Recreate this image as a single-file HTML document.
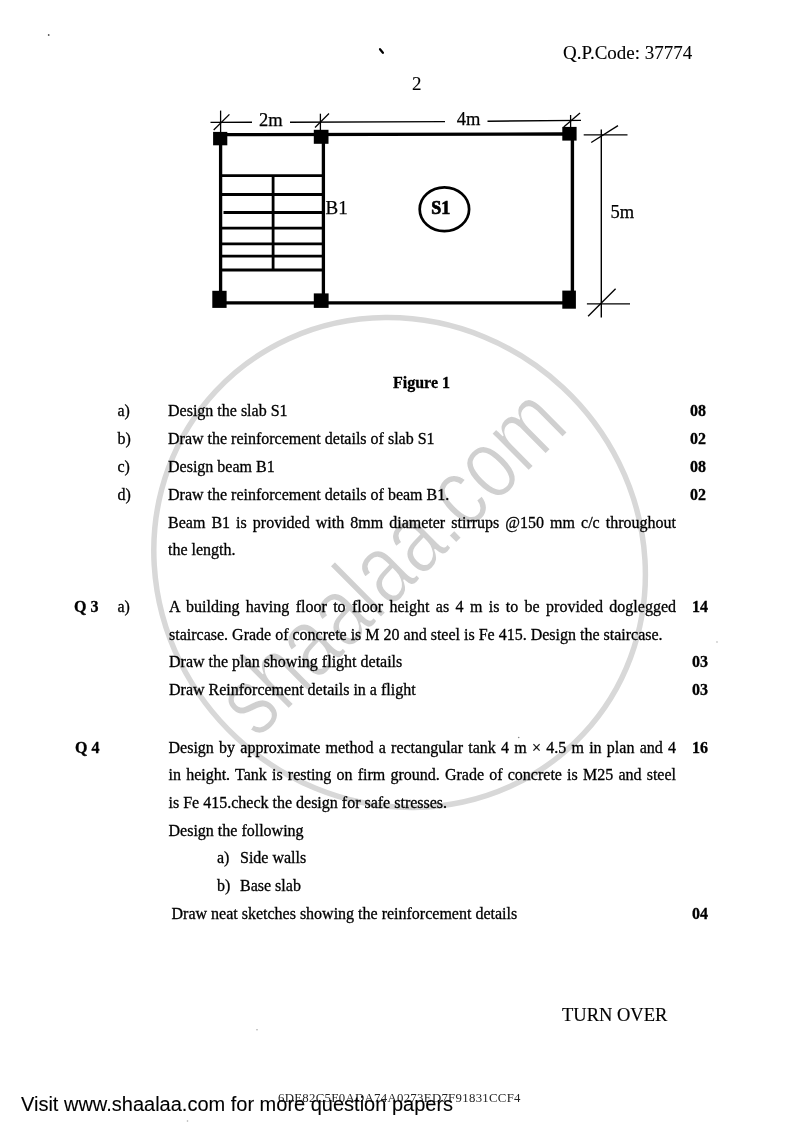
<!DOCTYPE html>
<html><head><meta charset="utf-8">
<style>
html,body{margin:0;padding:0;background:#fff;}
body{width:800px;height:1131px;position:relative;overflow:hidden;filter:grayscale(1) blur(0.3px);font-family:"Liberation Serif",serif;color:#000;}
.l{position:absolute;font-size:16px;line-height:16px;white-space:pre;-webkit-text-stroke:0.3px #000;}
.b{font-weight:bold;}
.j{text-align:justify;text-align-last:justify;white-space:normal;}
svg{position:absolute;left:0;top:0;}
</style></head><body>
<svg width="800" height="1131" viewBox="0 0 800 1131">
<!-- watermark circle -->
<ellipse cx="399.6" cy="562.5" rx="251.3" ry="239.3" transform="rotate(43 399.6 562.5)" fill="none" stroke="#d8d8d8" stroke-width="5.5"/>
<text x="0" y="0" font-family="Liberation Sans" font-size="100" fill="#d0d0d0" stroke="#fff" stroke-width="1.6" transform="translate(257.2,740.3) rotate(-44.75) scale(0.78,1)">shaalaa.com</text>
</svg>

<svg width="800" height="1131" viewBox="0 0 800 1131" id="fig">
<line x1="380" y1="49.2" x2="382.9" y2="52.8" stroke="#000" stroke-width="2.2" stroke-linecap="round"/>
<circle cx="48.7" cy="35" r="0.9" fill="#555"/>
<circle cx="257" cy="1029.8" r="0.8" fill="#aaa"/>
<circle cx="187.5" cy="1121" r="0.8" fill="#aaa"/>
<circle cx="518.7" cy="737.5" r="0.8" fill="#888"/>
<circle cx="717" cy="642" r="0.9" fill="#ccc"/>
<g stroke="#000" fill="none" stroke-linecap="butt">
<!-- dimension line top -->
<line x1="210.5" y1="122.4" x2="252" y2="122.2" stroke-width="1.4"/>
<line x1="290" y1="122.2" x2="445" y2="121.6" stroke-width="1.4"/>
<line x1="487.5" y1="121.2" x2="581" y2="120.4" stroke-width="1.4"/>
<!-- ticks -->
<line x1="220.6" y1="110.6" x2="220.6" y2="132" stroke-width="1.3"/>
<line x1="213.7" y1="130" x2="229.4" y2="114.4" stroke-width="1.3"/>
<line x1="320.4" y1="113.7" x2="320.4" y2="130" stroke-width="1.3"/>
<line x1="315" y1="127.5" x2="329" y2="113.5" stroke-width="1.3"/>
<line x1="570.6" y1="115" x2="570.6" y2="127" stroke-width="1.3"/>
<line x1="563.7" y1="126.9" x2="580" y2="113" stroke-width="1.3"/>
<!-- beams -->
<line x1="226" y1="134.6" x2="563" y2="134" stroke-width="3.3"/>
<line x1="225" y1="302.9" x2="563" y2="302.9" stroke-width="3.3"/>
<line x1="220.6" y1="144" x2="220.6" y2="292" stroke-width="3.3"/>
<line x1="323.4" y1="142" x2="323.4" y2="294" stroke-width="3.3"/>
<line x1="572.4" y1="140" x2="572.4" y2="291" stroke-width="3.4"/>
<!-- stairs -->
<line x1="220.6" y1="175.6" x2="325" y2="175.6" stroke-width="2.8"/>
<line x1="220.6" y1="194.5" x2="325" y2="194.5" stroke-width="2.8"/>
<line x1="223.5" y1="212.5" x2="325" y2="212.5" stroke-width="2.8"/>
<line x1="220.6" y1="228.2" x2="325" y2="228.2" stroke-width="2.8"/>
<line x1="220.6" y1="243.8" x2="325" y2="243.8" stroke-width="2.8"/>
<line x1="220.6" y1="256.2" x2="325" y2="256.2" stroke-width="2.8"/>
<line x1="220.6" y1="270" x2="325" y2="270" stroke-width="2.8"/>
<line x1="273.1" y1="175" x2="273.1" y2="271" stroke-width="2.8"/>
<!-- right dim -->
<line x1="601.3" y1="129.4" x2="601.3" y2="317.5" stroke-width="1.4"/>
<line x1="583.7" y1="134.8" x2="627.5" y2="134.8" stroke-width="1.3"/>
<line x1="591.2" y1="142.5" x2="618" y2="125.6" stroke-width="1.3"/>
<line x1="586.9" y1="303.8" x2="630" y2="303.8" stroke-width="1.3"/>
<line x1="588.1" y1="316.2" x2="615.6" y2="288.8" stroke-width="1.3"/>
<!-- S1 ellipse -->
<ellipse cx="444.4" cy="209.3" rx="24.7" ry="21.9" stroke-width="2.7"/>
</g>
<g fill="#000">
<rect x="213.1" y="131.9" width="14.2" height="13.4"/>
<rect x="313.8" y="129.8" width="14.7" height="14"/>
<rect x="562.3" y="126.9" width="14.3" height="13.7"/>
<rect x="212.3" y="290.8" width="14.3" height="17.1"/>
<rect x="313.8" y="293.4" width="14.8" height="14.5"/>
<rect x="562.3" y="290.6" width="13.6" height="18.1"/>
</g>
<g font-family="Liberation Serif" fill="#000" stroke="#000" stroke-width="0.25">
<text x="259" y="125.6" font-size="18.5">2m</text>
<text x="456.8" y="124.8" font-size="18.5">4m</text>
<text x="325.5" y="213.6" font-size="19">B1</text>
<text x="431.2" y="213.8" style="font-size:18px;font-weight:bold" stroke="#000" stroke-width="0.7">S1</text>
<text x="610.5" y="218" font-size="18.5">5m</text>
</g>
</svg>

<div class="l" style="font-size:19px;line-height:19px;left:563px;top:42.7px;-webkit-text-stroke:0.1px #000">Q.P.Code: 37774</div>
<div class="l" style="font-size:19px;line-height:19px;left:412px;top:74.3px;-webkit-text-stroke:0.1px #000">2</div>

<div class="l b" style="left:393px;top:374.6px">Figure 1</div>

<div class="l" style="left:117.5px;top:402.5px">a)</div>
<div class="l" style="left:168px;top:402.5px">Design the slab S1</div>
<div class="l b" style="left:690px;top:402.5px">08</div>

<div class="l" style="left:117.5px;top:430.6px">b)</div>
<div class="l" style="left:168px;top:430.6px">Draw the reinforcement details of slab S1</div>
<div class="l b" style="left:690px;top:430.6px">02</div>

<div class="l" style="left:117.5px;top:458.7px">c)</div>
<div class="l" style="left:168px;top:458.7px">Design beam B1</div>
<div class="l b" style="left:690px;top:458.7px">08</div>

<div class="l" style="left:117.5px;top:486.8px">d)</div>
<div class="l" style="left:168px;top:486.8px">Draw the reinforcement details of beam B1.</div>
<div class="l b" style="left:690px;top:486.8px">02</div>

<div class="l j" style="left:168px;top:514.6px;width:508px">Beam B1 is provided with 8mm diameter stirrups @150 mm c/c throughout</div>
<div class="l" style="left:168px;top:542.4px">the length.</div>

<div class="l b" style="left:74px;top:599px">Q 3</div>
<div class="l" style="left:117.5px;top:599px">a)</div>
<div class="l j" style="left:169px;top:599px;width:507px">A building having floor to floor height as 4 m is to be provided doglegged</div>
<div class="l b" style="left:692px;top:599px">14</div>
<div class="l" style="left:169px;top:627px">staircase. Grade of concrete is M 20 and steel is Fe 415. Design the staircase.</div>
<div class="l" style="left:169px;top:654.2px">Draw the plan showing flight details</div>
<div class="l b" style="left:692px;top:654.2px">03</div>
<div class="l" style="left:169px;top:682.2px">Draw Reinforcement details in a flight</div>
<div class="l b" style="left:692px;top:682.2px">03</div>

<div class="l b" style="left:75px;top:739.5px">Q 4</div>
<div class="l j" style="left:168.5px;top:739.5px;width:507.5px">Design by approximate method a rectangular tank 4 m × 4.5 m in plan and 4</div>
<div class="l b" style="left:692px;top:739.5px">16</div>
<div class="l j" style="left:168.5px;top:766.6px;width:507.5px">in height. Tank is resting on firm ground. Grade of concrete is M25 and steel</div>
<div class="l" style="left:168.5px;top:794.6px">is Fe 415.check the design for safe stresses.</div>
<div class="l" style="left:168.5px;top:822.8px">Design the following</div>
<div class="l" style="left:217px;top:850.3px">a)</div>
<div class="l" style="left:240px;top:850.3px">Side walls</div>
<div class="l" style="left:217px;top:877.8px">b)</div>
<div class="l" style="left:240px;top:877.8px">Base slab</div>
<div class="l" style="left:171.5px;top:906px">Draw neat sketches showing the reinforcement details</div>
<div class="l b" style="left:692px;top:906px">04</div>

<div class="l" style="font-size:18.5px;line-height:18.5px;left:562px;top:1005.5px;-webkit-text-stroke:0.15px #000">TURN OVER</div>
<div class="l" style="font-size:12.8px;line-height:12.8px;letter-spacing:0.3px;-webkit-text-stroke:0;left:278px;top:1092px;color:#222">6DE82C5F0ADA74A0273ED7F91831CCF4</div>
<div class="l" style="font-family:'Liberation Sans',sans-serif;font-size:20px;line-height:20px;left:21px;top:1094.3px;-webkit-text-stroke:0.1px #000">Visit www.shaalaa.com for more question papers</div>
</body></html>
